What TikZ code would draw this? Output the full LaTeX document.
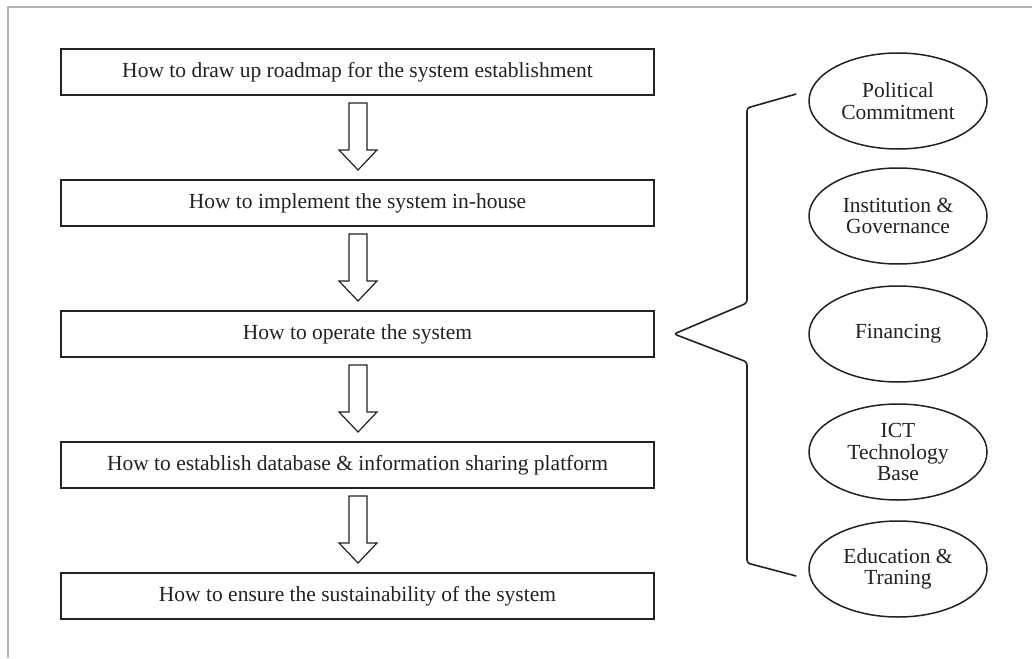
\documentclass[tikz,border=0pt]{standalone}
\usepackage{fontspec}
\setmainfont{Liberation Serif}
\usetikzlibrary{calc,shapes.geometric}
\definecolor{ink}{HTML}{222222}
\definecolor{framegray}{HTML}{B4B4B4}
\tikzset{
  stepbox/.style={draw=ink, line width=2pt, minimum width=593pt, minimum height=46pt, inner sep=0pt, font=\fontsize{21.5}{22}\selectfont, text=ink},
  pillar/.style={draw=ink, line width=1.5pt, ellipse, minimum width=178pt, minimum height=96pt, inner sep=0pt, align=center, font=\fontsize{21.5}{21.5}\selectfont, text=ink},
  blockarrow/.style={draw=ink, line width=1.2pt, fill=white, line join=miter},
  bracket/.style={draw=ink, line width=1.6pt, rounded corners=3pt},
}
\begin{document}
\begin{tikzpicture}[x=1pt,y=-1pt]
\fill[white] (0,0) rectangle (1032,658);
\useasboundingbox (0,0) rectangle (1032,658);
\draw[framegray, line width=2pt] (8,658) -- (8,7) -- (1032,7);

\node[stepbox] (b1) at (357.5,72) {How to draw up roadmap for the system establishment};
\node[stepbox] (b2) at (357.5,203) {How to implement the system in-house};
\node[stepbox] (b3) at (357.5,334) {How to operate the system};
\node[stepbox] (b4) at (357.5,465) {How to establish database \& information sharing platform};
\node[stepbox] (b5) at (357.5,596) {How to ensure the sustainability of the system};

\foreach \i in {1,2,3,4}{
  \path (b\i.south) ++(0.5,7) coordinate (t\i);
  \draw[blockarrow] (t\i) ++(-9,0) -- ++(0,47) -- ++(-10,0) -- ++(19,20) -- ++(19,-20) -- ++(-10,0) -- ++(0,-47) -- cycle;
}

\node[pillar] (e1) at (898,101) {Political\\Commitment};
\node[pillar] (e2) at (898,216) {Institution \&\\Governance};
\node[pillar] (e3) at (898,334) {Financing};
\node[pillar] (e4) at (898,452) {ICT\\Technology\\Base};
\node[pillar] (e5) at (898,569) {Education \&\\Traning};

\coordinate (tip) at ($(b3.east)+(19,0)$);
\coordinate (topend) at ($(e1.west)+(-12,-7)$);
\coordinate (botend) at ($(e5.west)+(-12,7)$);
\draw[bracket] (topend) -- (747,108) -- (747,303) -- (tip) -- (747,362) -- (747,563) -- (botend);
\end{tikzpicture}
\end{document}
